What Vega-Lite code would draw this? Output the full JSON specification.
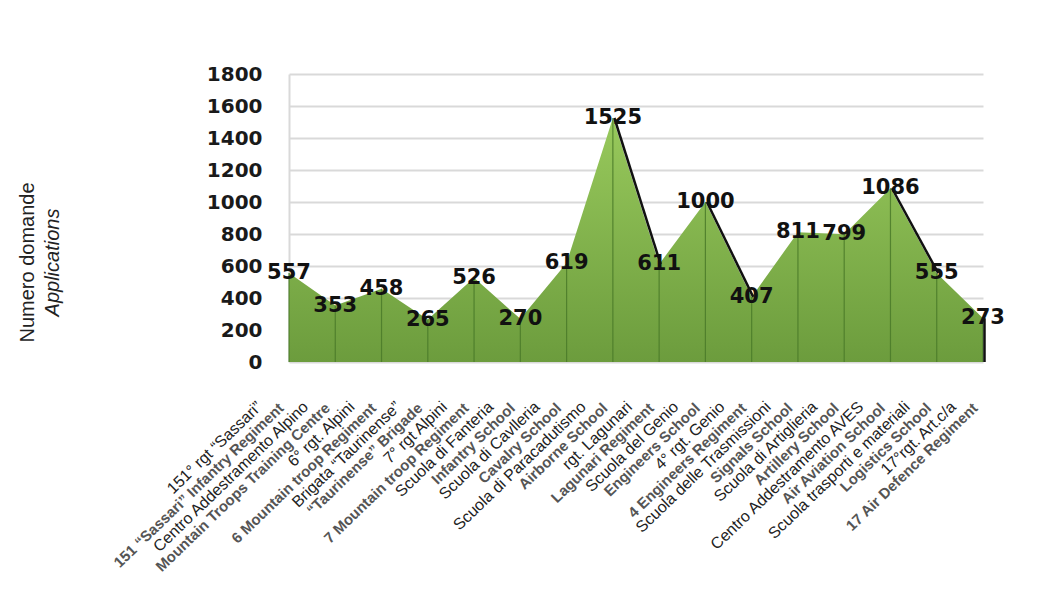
{
  "$schema": "https://vega.github.io/schema/vega-lite/v6.json",
  "autosize": {"type": "none"},
  "width": 694,
  "height": 288,
  "padding": {"left": 289, "top": 74, "right": 75, "bottom": 254},
  "background": "white",
  "config": {"view": {"stroke": null}},
  "datasets": {
    "main": [
      {"cat": "151° rgt “Sassari”", "en": "151 “Sassari” Infantry Regiment", "v": 557},
      {"cat": "Centro Addestramento Alpino", "en": "Mountain Troops Training Centre", "v": 353},
      {"cat": "6° rgt. Alpini", "en": "6 Mountain troop Regiment", "v": 458},
      {"cat": "Brigata “Taurinense”", "en": "“Taurinense” Brigade", "v": 265},
      {"cat": "7° rgt Alpini", "en": "7 Mountain troop Regiment", "v": 526},
      {"cat": "Scuola di Fanteria", "en": "Infantry School", "v": 270},
      {"cat": "Scuola di Cavlleria", "en": "Cavalry School", "v": 619},
      {"cat": "Scuola di Paracadutismo", "en": "Airborne School", "v": 1525},
      {"cat": "rgt. Lagunari", "en": "Lagunari Regiment", "v": 611},
      {"cat": "Scuola del Genio", "en": "Engineers School", "v": 1000},
      {"cat": "4° rgt. Genio", "en": "4 Engineers Regiment", "v": 407},
      {"cat": "Scuola delle Trasmissioni", "en": "Signals School", "v": 811},
      {"cat": "Scuola di Artiglieria", "en": "Artillery School", "v": 799},
      {"cat": "Centro Addestramento AVES", "en": "Air Aviation School", "v": 1086},
      {"cat": "Scuola trasporti e materiali", "en": "Logistics School", "v": 555},
      {"cat": "17°rgt. Art.c/a", "en": "17 Air Defence Regiment", "v": 273}
    ],
    "shadow": [
      {"cat": "Scuola di Paracadutismo", "v": 1525, "seg": "a"},
      {"cat": "rgt. Lagunari", "v": 611, "seg": "a"},
      {"cat": "Scuola del Genio", "v": 1000, "seg": "b"},
      {"cat": "4° rgt. Genio", "v": 407, "seg": "b"},
      {"cat": "Centro Addestramento AVES", "v": 1086, "seg": "c"},
      {"cat": "Scuola trasporti e materiali", "v": 555, "seg": "c"},
      {"cat": "17°rgt. Art.c/a", "v": 273, "seg": "d"},
      {"cat": "17°rgt. Art.c/a", "v": 0, "seg": "d"}
    ]
  },
  "resolve": {"axis": {"y": "independent"}},
  "layer": [
    {
      "data": {"name": "main"},
      "mark": {
        "type": "area",
        "line": false,
        "color": {
          "gradient": "linear",
          "x1": 0, "y1": 0, "x2": 0, "y2": 1,
          "stops": [
            {"offset": 0, "color": "#98c95c"},
            {"offset": 1, "color": "#6c9c3d"}
          ]
        }
      },
      "encoding": {
        "x": {
          "field": "cat", "type": "nominal", "sort": null,
          "scale": {"type": "point", "padding": 0},
          "axis": {
            "orient": "bottom",
            "title": null,
            "domain": false,
            "ticks": false,
            "labelAngle": -44,
            "labelAlign": "right",
            "labelBaseline": "middle",
            "labelFont": "Liberation Sans",
            "labelFontSize": 16,
            "labelColor": "#222222",
            "labelPadding": 42,
            "labelOffset": -30,
            "labelOverlap": false,
            "labelBound": false,
            "labelFlush": false,
            "labelLimit": 500
          }
        },
        "y": {
          "field": "v", "type": "quantitative",
          "scale": {"domain": [0, 1800]},
          "axis": {
            "orient": "left",
            "title": "Numero domande",
            "titleFont": "Liberation Sans",
            "titleFontSize": 20,
            "titleFontWeight": "normal",
            "titleColor": "#222222",
            "titleAngle": 270,
            "titleAlign": "center",
            "titleBaseline": "middle",
            "titleX": -262,
            "titleY": 188,
            "values": [0, 200, 400, 600, 800, 1000, 1200, 1400, 1600, 1800],
            "format": "d",
            "labelOverlap": false,
            "ticks": false,
            "domain": true,
            "domainColor": "#d9d9d9",
            "domainWidth": 2,
            "grid": true,
            "gridColor": "#d9d9d9",
            "gridWidth": 2,
            "labelFont": "DejaVu Sans",
            "labelFontWeight": "bold",
            "labelFontSize": 20,
            "labelColor": "#1a1a1a",
            "labelPadding": 27
          }
        }
      }
    },
    {
      "data": {"name": "main"},
      "mark": {"type": "rule", "color": "#4a7a29", "strokeWidth": 1.2, "opacity": 0.85},
      "encoding": {
        "x": {"field": "cat", "type": "nominal", "sort": null},
        "y": {
          "field": "v", "type": "quantitative",
          "axis": {
            "orient": "left",
            "title": "Applications",
            "titleFont": "Liberation Sans",
            "titleFontSize": 20,
            "titleFontWeight": "normal",
            "titleFontStyle": "italic",
            "titleColor": "#222222",
            "titleAngle": 270,
            "titleAlign": "center",
            "titleBaseline": "middle",
            "titleX": -237,
            "titleY": 188,
            "labels": false,
            "ticks": false,
            "domain": false,
            "grid": false
          }
        },
        "y2": {"datum": 0}
      }
    },
    {
      "data": {"name": "shadow"},
      "mark": {"type": "line", "color": "#111111", "strokeWidth": 2.5, "xOffset": 1.5},
      "encoding": {
        "x": {"field": "cat", "type": "nominal", "sort": null},
        "y": {"field": "v", "type": "quantitative", "axis": null},
        "detail": {"field": "seg"}
      }
    },
    {
      "data": {"name": "main"},
      "mark": {
        "type": "text",
        "font": "DejaVu Sans",
        "fontWeight": "bold",
        "fontSize": 21,
        "color": "#111111",
        "align": "center",
        "baseline": "middle"
      },
      "encoding": {
        "x": {"field": "cat", "type": "nominal", "sort": null},
        "y": {"field": "v", "type": "quantitative", "axis": null},
        "text": {"field": "v", "type": "quantitative"}
      }
    },
    {
      "data": {"name": "main"},
      "mark": {
        "type": "text",
        "font": "Liberation Sans",
        "fontWeight": "bold",
        "fontSize": 15,
        "color": "#555555",
        "angle": 316,
        "align": "right",
        "baseline": "middle",
        "dx": -36,
        "dy": 26
      },
      "encoding": {
        "x": {"field": "cat", "type": "nominal", "sort": null},
        "y": {"datum": 0, "type": "quantitative", "axis": null},
        "text": {"field": "en"}
      }
    }
  ]
}
